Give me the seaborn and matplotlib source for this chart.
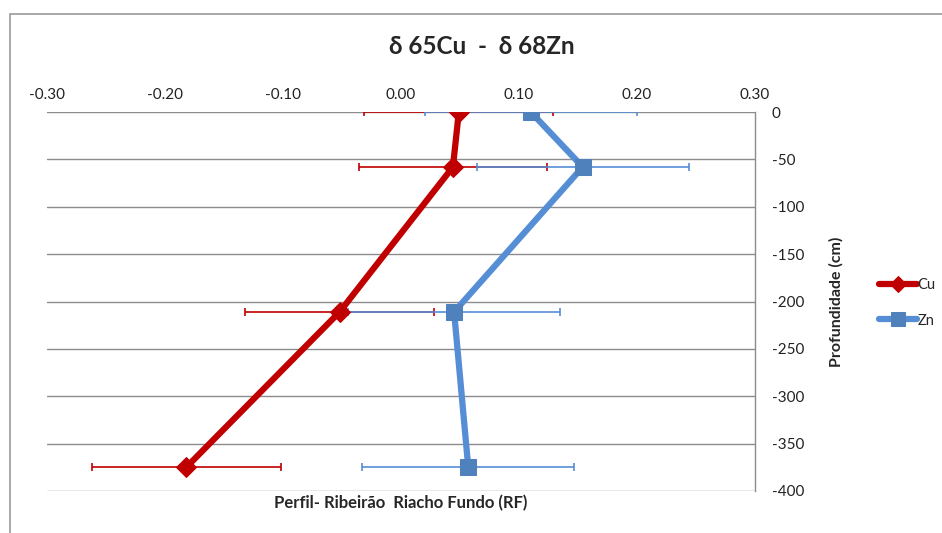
import matplotlib
matplotlib.use('Agg')
import matplotlib.pyplot as plt
import seaborn as sns
import pandas as pd
from matplotlib.patches import Rectangle

# Dados do perfil
depth = [0, -58, -211, -375]
cu_delta = [0.049, 0.044, -0.052, -0.182]
cu_err = [0.08, 0.08, 0.08, 0.08]
zn_delta = [0.110, 0.154, 0.045, 0.057]
zn_err = [0.09, 0.09, 0.09, 0.09]
x_ticks = [-0.30, -0.20, -0.10, 0.00, 0.10, 0.20, 0.30]
y_ticks = [0, -50, -100, -150, -200, -250, -300, -350, -400]

cu_color = '#C00000'
zn_color = '#558ED5'
zn_marker = '#4F81BD'

sns.set_theme(style='white')
plt.rcParams['font.family'] = ['Lato', 'DejaVu Sans']

df_cu = pd.DataFrame({'delta': cu_delta, 'depth': depth})
df_zn = pd.DataFrame({'delta': zn_delta, 'depth': depth})

fig = plt.figure(figsize=(9.42, 5.33), dpi=100)
ax = fig.add_axes([47 / 942, 1 - 491 / 533, 708 / 942, 379 / 533])

# barras de erro
ax.errorbar(cu_delta, depth, xerr=cu_err, fmt='none', ecolor=cu_color,
            elinewidth=1.2, capsize=3, capthick=1.2, zorder=2)
ax.errorbar(zn_delta, depth, xerr=zn_err, fmt='none', ecolor=zn_color,
            elinewidth=1.2, capsize=3, capthick=1.2, zorder=2)

sns.lineplot(data=df_cu, x='delta', y='depth', sort=False, ax=ax,
             color=cu_color, linewidth=4.5, marker='D', markersize=10,
             markeredgecolor=cu_color, label='Cu', zorder=4)
sns.lineplot(data=df_zn, x='delta', y='depth', sort=False, ax=ax,
             color=zn_color, linewidth=4.5, marker='s', markersize=12,
             markerfacecolor=zn_marker, markeredgecolor=zn_marker,
             label='Zn', zorder=3)

ax.set_xlim(-0.30, 0.30)
ax.set_ylim(-400, 0)
ax.set_xticks(x_ticks)
ax.set_xticklabels([f'{v:.2f}' for v in x_ticks])
ax.set_yticks(y_ticks)
ax.set_yticklabels([str(v) for v in y_ticks])
ax.xaxis.tick_top()
ax.yaxis.tick_right()
ax.tick_params(axis='both', length=0, labelsize=11, colors='#222222')
ax.tick_params(axis='x', pad=7)
ax.tick_params(axis='y', pad=12)

ax.grid(axis='y', color='#8C8C8C', linewidth=1)
ax.grid(axis='x', visible=False)
for side in ['left', 'top', 'bottom']:
    ax.spines[side].set_visible(False)
ax.spines['right'].set_color('#8C8C8C')
ax.spines['right'].set_linewidth(1)

ax.set_xlabel('Perfil- Ribeirão  Riacho Fundo (RF)', fontsize=12, fontweight='bold',
              labelpad=3)
ax.xaxis.set_label_position('bottom')
ax.set_ylabel('Profundidade (cm)', fontsize=11.5, fontweight='bold', labelpad=18)
ax.yaxis.set_label_position('right')

ax.legend(loc='center left', bbox_to_anchor=(879 / 942, 1 - 303 / 533),
          bbox_transform=fig.transFigure, frameon=False, borderpad=0,
          borderaxespad=0, fontsize=10.5, handlelength=2.6, handletextpad=0.05,
          labelspacing=1.45, markerscale=0.8)

fig.text(482 / 942, 1 - 46 / 533, 'δ 65Cu  -  δ 68Zn', ha='center', va='center',
         fontsize=17.5, fontweight='bold')

fig.patches.append(Rectangle((10 / 942, -0.05), 1.0, 1 - 14 / 533 + 0.05,
                             transform=fig.transFigure, fill=False,
                             edgecolor='#9A9A9A', linewidth=1.2))

fig.savefig('out.png', dpi=100)
